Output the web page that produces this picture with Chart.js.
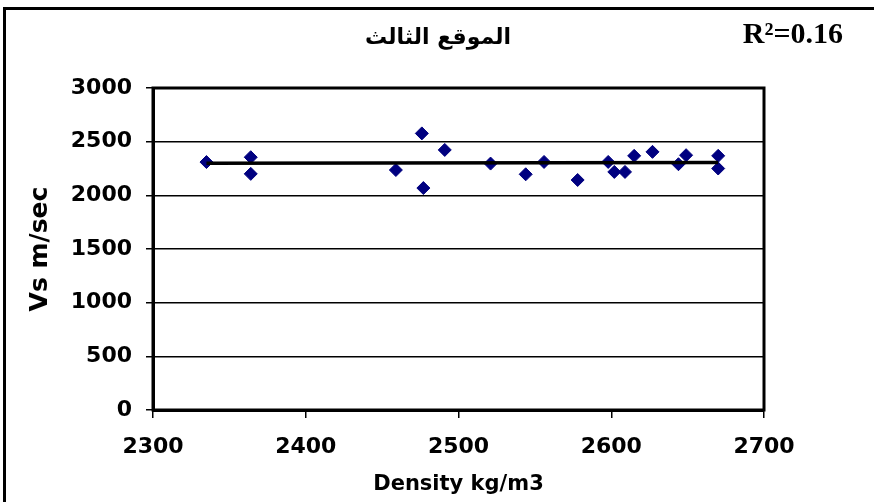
<!DOCTYPE html>
<html>
<head>
<meta charset="utf-8">
<script src="https://cdn.jsdelivr.net/npm/chart.js@4/dist/chart.umd.min.js"></script>
<style>
    html, body { margin: 0; padding: 0; background: #fff; }
    #wrap { width: 874px; height: 502px; position: relative; }
</style>
</head>
<body>
<div id="wrap"><canvas id="chart" width="874" height="502"></canvas></div>
<script>
// --- Data ---
const density = [2335, 2364, 2364, 2459, 2476, 2477, 2491, 2521, 2544, 2556, 2578,
                 2598, 2602, 2609, 2615, 2627, 2644, 2649, 2670, 2670];
const velocity = [2310, 2355, 2200, 2236, 2577, 2068, 2423, 2296, 2196, 2311, 2143,
                  2311, 2218, 2218, 2368, 2405, 2290, 2374, 2368, 2250];
const trendX = [2335, 2670];
const trendY = [2300, 2305];
const xTicks = [2300, 2400, 2500, 2600, 2700];
const yTicks = [0, 500, 1000, 1500, 2000, 2500, 3000];

const chartTitle = 'الموقع الثالث';
const r2Label = 'R²=0.16';

const tickFont = { family: 'DejaVu Sans', size: 22, weight: 'bold' };
const plainNumber = v => String(v);

// --- Frame, outer border and header texts ---
const decorations = {
    id: 'decorations',
    beforeDraw(chart) {
        const ctx = chart.ctx;
        ctx.save();
        ctx.fillStyle = '#fff';
        ctx.fillRect(0, 0, chart.width, chart.height);
        ctx.strokeStyle = '#000';
        ctx.lineWidth = 3;
        ctx.strokeRect(4.5, 8.5, chart.width + 10, chart.height + 10);
        ctx.restore();
    },
    afterDraw(chart) {
        const ctx = chart.ctx;
        const a = chart.chartArea;
        ctx.save();
        ctx.strokeStyle = '#000';
        ctx.lineWidth = 3;
        ctx.strokeRect(a.left, a.top, a.right - a.left, a.bottom - a.top);

        ctx.fillStyle = '#000';
        ctx.textBaseline = 'alphabetic';
        ctx.textAlign = 'center';
        ctx.font = 'bold 22px "DejaVu Sans"';
        ctx.fillText(chartTitle, 438, 44);

        ctx.textAlign = 'right';
        ctx.font = 'bold 30px "Liberation Serif"';
        ctx.fillText(r2Label, 843, 43);
        ctx.restore();
    }
};

const ctx = document.getElementById('chart').getContext('2d');
new Chart(ctx, {
    data: {
        datasets: [
            {
                type: 'line',
                data: trendX.map((x, i) => ({ x: x, y: trendY[i] })),
                borderColor: '#000',
                borderWidth: 3.5,
                pointRadius: 0,
                fill: false
            },
            {
                type: 'scatter',
                data: density.map((x, i) => ({ x: x, y: velocity[i] })),
                pointStyle: 'rectRot',
                pointRadius: 6.5,
                backgroundColor: '#000080',
                borderColor: '#000080',
                borderWidth: 1
            }
        ]
    },
    options: {
        responsive: false,
        animation: false,
        layout: { padding: { top: 88, right: 110, left: 0, bottom: 0 } },
        plugins: {
            legend: { display: false },
            tooltip: { enabled: false },
            title: { display: false }
        },
        scales: {
            x: {
                type: 'linear',
                min: 2300,
                max: 2700,
                afterBuildTicks: s => { s.ticks = xTicks.map(v => ({ value: v })); },
                afterFit: s => { s.height = 92; },
                grid: { drawOnChartArea: false, color: '#000', lineWidth: 1.5, tickLength: 8 },
                border: { color: '#000', width: 3 },
                ticks: { color: '#000', font: tickFont, padding: 16, maxRotation: 0, callback: plainNumber },
                title: {
                    display: true,
                    text: 'Density kg/m3',
                    color: '#000',
                    font: { family: 'DejaVu Sans', size: 21, weight: 'bold' },
                    padding: { top: 0, bottom: 5 }
                }
            },
            y: {
                type: 'linear',
                min: 0,
                max: 3000,
                afterBuildTicks: s => { s.ticks = yTicks.map(v => ({ value: v })); },
                afterFit: s => { s.width = 153; },
                grid: { color: '#000', lineWidth: 1.5, tickLength: 7 },
                border: { color: '#000', width: 3 },
                ticks: { color: '#000', font: tickFont, padding: 14, callback: plainNumber },
                title: {
                    display: true,
                    text: 'Vs m/sec',
                    color: '#000',
                    font: { family: 'DejaVu Sans', size: 25, weight: 'bold' },
                    padding: { top: 25, bottom: 0 }
                }
            }
        }
    },
    plugins: [decorations]
});
</script>
</body>
</html>
